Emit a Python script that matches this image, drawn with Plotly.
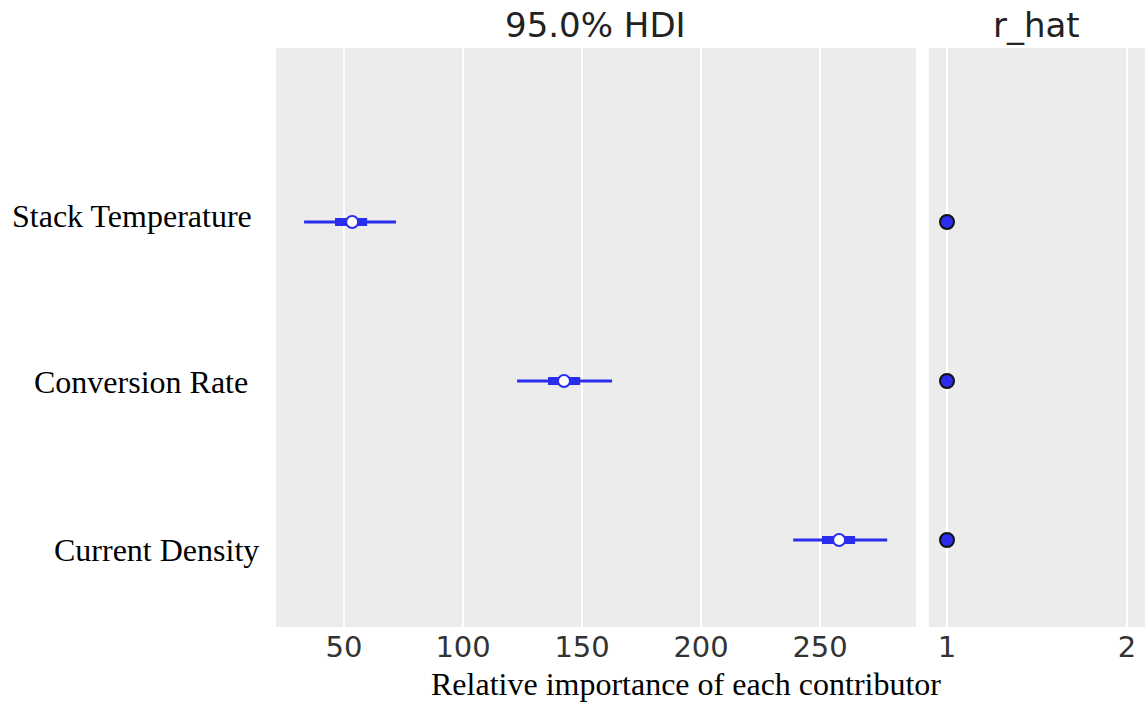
import plotly.graph_objects as go

# ---- data ----
labels = ["Stack Temperature", "Conversion Rate", "Current Density"]
y_pos = [2, 1, 0]
hdi_low = [33.2, 122.7, 238.7]
hdi_high = [71.8, 162.6, 278.2]
q_low = [46.2, 135.7, 250.8]
q_high = [59.7, 149.2, 264.7]
median = [53.4, 142.4, 258.0]
r_hat = [1.0, 1.0, 1.0]
x_ticks = [50, 100, 150, 200, 250]
r_ticks = [1, 2]

W, H = 1145, 704
BLUE = "#2a2eec"

def px(x):
    return x / W

def py(y):
    return 1 - y / H

fig = go.Figure()

for i in range(len(labels)):
    fig.add_trace(go.Scatter(x=[hdi_low[i], hdi_high[i]], y=[y_pos[i], y_pos[i]],
                             mode="lines", line=dict(color=BLUE, width=3),
                             xaxis="x", yaxis="y", showlegend=False, hoverinfo="skip"))
    fig.add_trace(go.Scatter(x=[q_low[i], q_high[i]], y=[y_pos[i], y_pos[i]],
                             mode="lines", line=dict(color=BLUE, width=8),
                             xaxis="x", yaxis="y", showlegend=False, hoverinfo="skip"))

fig.add_trace(go.Scatter(x=median, y=y_pos, mode="markers",
                         marker=dict(size=12, color="white", line=dict(color=BLUE, width=2)),
                         xaxis="x", yaxis="y", showlegend=False))

fig.add_trace(go.Scatter(x=r_hat, y=y_pos, mode="markers",
                         marker=dict(size=14, color=BLUE, line=dict(color="#111111", width=2)),
                         xaxis="x2", yaxis="y2", showlegend=False))

ydom = [py(627), py(48)]
yrange = [-0.547, 3.094]
tickfont = dict(family="DejaVu Sans", size=29, color="#333333")

fig.update_layout(
    width=W, height=H,
    margin=dict(l=0, r=0, t=0, b=0),
    paper_bgcolor="white",
    plot_bgcolor="#ECECEC",
    xaxis=dict(domain=[px(276), px(916)], range=[21.4, 290.3],
               tickvals=x_ticks, showgrid=True, gridcolor="white", gridwidth=2,
               zeroline=False, showline=False, ticks="", tickfont=tickfont),
    yaxis=dict(domain=ydom, range=yrange, showticklabels=False, showgrid=False,
               zeroline=False, showline=False, ticks=""),
    xaxis2=dict(domain=[px(929), px(1145)], range=[0.9, 2.1],
                tickvals=r_ticks, showgrid=True, gridcolor="white", gridwidth=2,
                zeroline=False, showline=False, ticks="", tickfont=tickfont, anchor="y2"),
    yaxis2=dict(domain=ydom, range=yrange, showticklabels=False, showgrid=False,
                zeroline=False, showline=False, ticks="", anchor="x2"),
)

ann = []
title_font = dict(family="DejaVu Sans", size=34, color="#222222")
ann.append(dict(text="95.0% HDI", x=px(596), y=py(25), xref="paper", yref="paper",
                showarrow=False, font=title_font, xanchor="center", yanchor="middle"))
ann.append(dict(text="r_hat", x=px(1036), y=py(25), xref="paper", yref="paper",
                showarrow=False, font=title_font, xanchor="center", yanchor="middle"))
serif = dict(family="Liberation Serif", size=32, color="black")
label_x = [10, 32, 52]
label_y = [216, 382, 550]
for lab, lx, ly in zip(labels, label_x, label_y):
    ann.append(dict(text=lab, x=px(lx), y=py(ly), xref="paper", yref="paper",
                    showarrow=False, font=serif, xanchor="left", yanchor="middle"))
ann.append(dict(text="Relative importance of each contributor", x=px(686), y=py(684),
                xref="paper", yref="paper", showarrow=False, font=serif,
                xanchor="center", yanchor="middle"))
fig.update_layout(annotations=ann)

fig.write_html("out.html")
